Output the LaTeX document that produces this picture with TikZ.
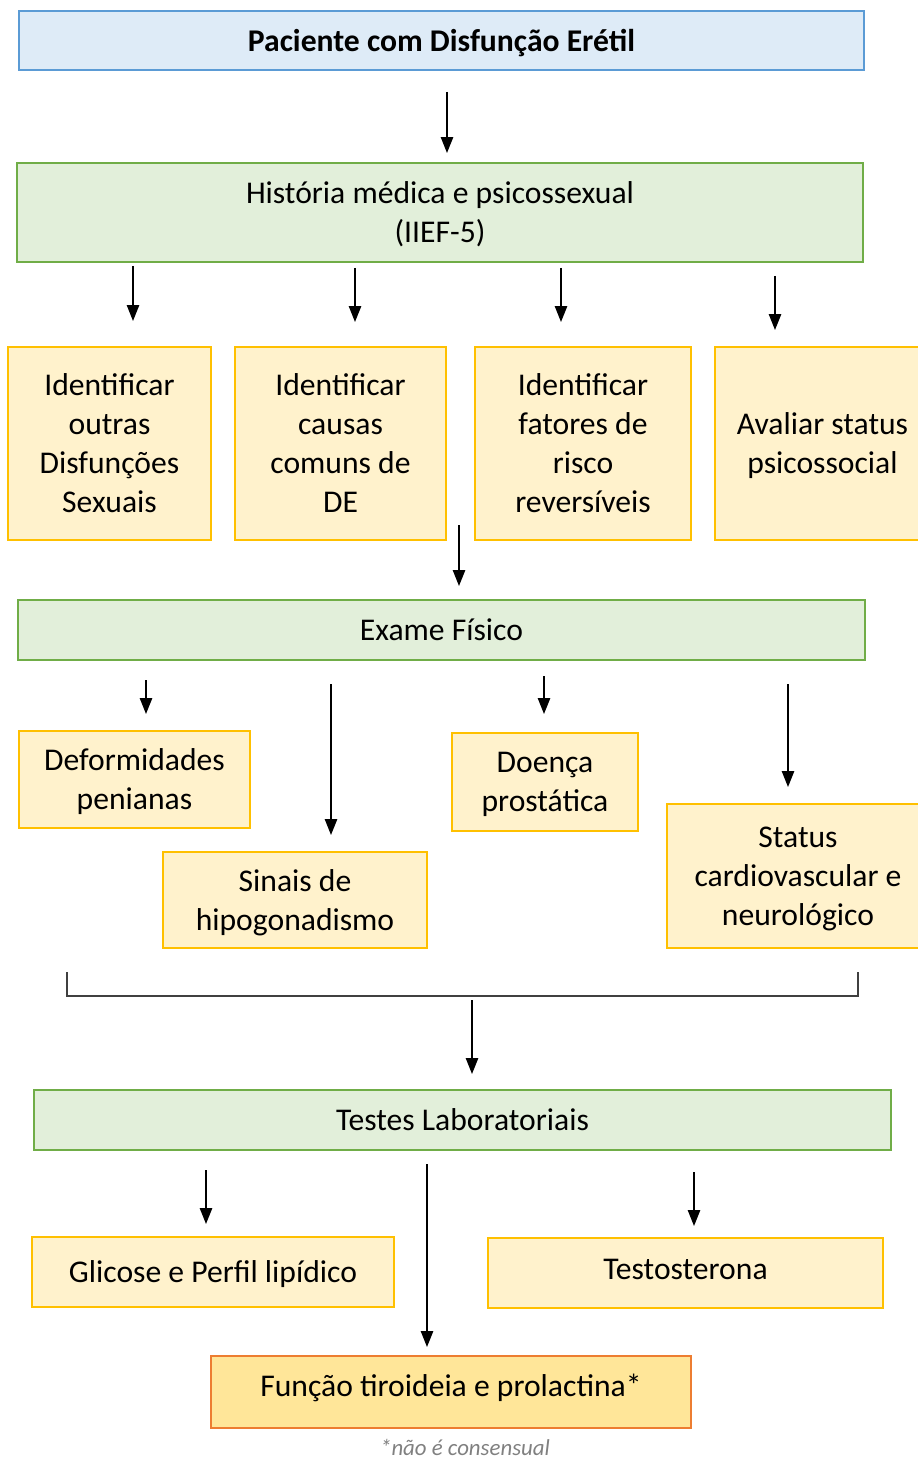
\documentclass[tikz,border=0pt]{standalone}
\usepackage{fontspec}
\setmainfont{Carlito}
\usetikzlibrary{arrows.meta}
\definecolor{azulF}{HTML}{DEEBF7}
\definecolor{azulB}{HTML}{5B9BD5}
\definecolor{verdeF}{HTML}{E2EFDA}
\definecolor{verdeB}{HTML}{70AD47}
\definecolor{amarF}{HTML}{FFF2CC}
\definecolor{amarB}{HTML}{FFC000}
\definecolor{larF}{HTML}{FFE699}
\definecolor{larB}{HTML}{ED7D31}
\tikzset{
  caixa/.style={draw, line width=1.1pt, align=center, inner sep=0pt, text depth=0pt,
    font=\fontsize{18}{22.2}\selectfont},
  azul/.style={caixa, fill=azulF, draw=azulB},
  verde/.style={caixa, fill=verdeF, draw=verdeB},
  amar/.style={caixa, fill=amarF, draw=amarB},
  lar/.style={caixa, fill=larF, draw=larB},
  seta/.style={-{Triangle[width=7pt,length=9pt]}, line width=0.75pt},
}
\begin{document}
\begin{tikzpicture}[x=0.02cm, y=-0.02cm]
\useasboundingbox (0,0) rectangle (918,1459);
\node[azul, minimum width=16.9cm, minimum height=1.18cm] (P_0_0) at (441.5,40.5) {\textbf{Paciente com Disfunção Erétil}};
\coordinate (S_0_0) at (447,92);
\coordinate (E_0_0) at (447,153);
\draw[seta] (S_0_0) -- (E_0_0);
\node[verde, minimum width=16.92cm, minimum height=1.98cm] (P_1_0) at (440,212.5) {História médica e psicossexual\\(IIEF-5)};
% ramos da historia
\coordinate (S_1_0) at (133,266);
\coordinate (E_1_0) at (133,321);
\draw[seta] (S_1_0) -- (E_1_0);
\coordinate (S_1_1) at (355,268);
\coordinate (E_1_1) at (355,322);
\draw[seta] (S_1_1) -- (E_1_1);
\coordinate (S_1_2) at (561,268);
\coordinate (E_1_2) at (561,322);
\draw[seta] (S_1_2) -- (E_1_2);
\coordinate (S_1_3) at (775,276);
\coordinate (E_1_3) at (775,330);
\draw[seta] (S_1_3) -- (E_1_3);
\node[amar, minimum width=4.06cm, minimum height=3.86cm] (P_2_0) at (109.5,443.5) {Identificar\\outras\\Disfunções\\Sexuais};
\node[amar, minimum width=4.22cm, minimum height=3.86cm] (P_2_1) at (340.5,443.5) {Identificar\\causas\\comuns de\\DE};
\node[amar, minimum width=4.32cm, minimum height=3.86cm] (P_2_2) at (583,443.5) {Identificar\\fatores de\\risco\\reversíveis};
\node[amar, minimum width=4.3cm, minimum height=3.86cm] (P_2_3) at (822.5,443.5) {Avaliar status\\psicossocial};
\coordinate (S_2_0) at (459,525);
\coordinate (E_2_0) at (459,586);
\draw[seta] (S_2_0) -- (E_2_0);
\node[verde, minimum width=16.94cm, minimum height=1.2cm] (P_3_0) at (441.5,630) {Exame Físico};
% ramos do exame
\coordinate (S_3_0) at (146,680);
\coordinate (E_3_0) at (146,714);
\draw[seta] (S_3_0) -- (E_3_0);
\coordinate (S_3_1) at (331,684);
\coordinate (E_3_1) at (331,835);
\draw[seta] (S_3_1) -- (E_3_1);
\coordinate (S_3_2) at (544,676);
\coordinate (E_3_2) at (544,714);
\draw[seta] (S_3_2) -- (E_3_2);
\coordinate (S_3_3) at (788,684);
\coordinate (E_3_3) at (788,787);
\draw[seta] (S_3_3) -- (E_3_3);
\node[amar, minimum width=4.62cm, minimum height=1.94cm] (P_4_0) at (134.5,779.5) {Deformidades\\penianas};
\node[amar, minimum width=5.28cm, minimum height=1.92cm] (P_4_1) at (295,900) {Sinais de\\hipogonadismo};
\node[amar, minimum width=3.72cm, minimum height=1.96cm] (P_4_2) at (545,782) {Doença\\prostática};
\node[amar, minimum width=5.24cm, minimum height=2.88cm] (P_4_3) at (798,876) {Status\\cardiovascular e\\neurológico};
% chave
\coordinate (K_0) at (67,972);
\coordinate (K_1) at (858,972);
\draw[line width=0.9pt, black!75] (K_0) -- ++(0,24) -| (K_1);
\coordinate (S_4_0) at (472,1000);
\coordinate (E_4_0) at (472,1074);
\draw[seta] (S_4_0) -- (E_4_0);
\node[verde, minimum width=17.14cm, minimum height=1.2cm] (P_5_0) at (462.5,1120) {Testes Laboratoriais};
% ramos dos testes
\coordinate (S_5_0) at (206,1170);
\coordinate (E_5_0) at (206,1224);
\draw[seta] (S_5_0) -- (E_5_0);
\coordinate (S_5_1) at (427,1164);
\coordinate (E_5_1) at (427,1347);
\draw[seta] (S_5_1) -- (E_5_1);
\coordinate (S_5_2) at (694,1172);
\coordinate (E_5_2) at (694,1226);
\draw[seta] (S_5_2) -- (E_5_2);
\node[amar, minimum width=7.24cm, minimum height=1.4cm] (P_6_0) at (213,1272) {Glicose e Perfil lipídico};
\node[amar, minimum width=7.9cm, minimum height=1.4cm, text depth=4.5pt] (P_6_1) at (685.5,1273) {Testosterona};
\node[lar, minimum width=9.6cm, minimum height=1.44cm, text depth=8pt] (P_7_0) at (451,1392) {Função tiroideia e prolactina*};
\node[font=\fontsize{13}{15}\selectfont\itshape, text=black!50, anchor=base, inner sep=0pt] (N_0) at (465,1455) {*não é consensual};
\end{tikzpicture}
\end{document}
